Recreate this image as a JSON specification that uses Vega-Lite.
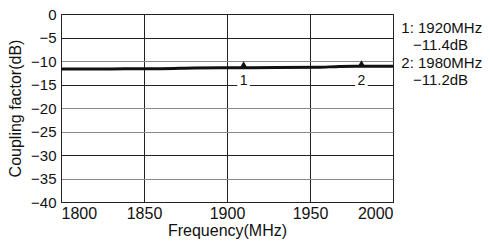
{
  "$schema": "https://vega.github.io/schema/vega-lite/v6.json",
  "width": 332,
  "height": 188,
  "autosize": "none",
  "padding": {"left": 61, "top": 14, "right": 97, "bottom": 46},
  "background": "white",
  "config": {
    "view": {"stroke": "#222", "strokeWidth": 1},
    "font": "Liberation Sans",
    "text": {"font": "Liberation Sans", "color": "#111"}
  },
  "datasets": {
    "curve": [
      {"f": 1800, "db": -11.7},
      {"f": 1830, "db": -11.68},
      {"f": 1860, "db": -11.65},
      {"f": 1880, "db": -11.5},
      {"f": 1900, "db": -11.42},
      {"f": 1930, "db": -11.4},
      {"f": 1955, "db": -11.35},
      {"f": 1968, "db": -11.15},
      {"f": 1985, "db": -11.12},
      {"f": 2000, "db": -11.1}
    ],
    "markers": [
      {"f": 1910, "db": -11.4, "id": "1"},
      {"f": 1981, "db": -11.15, "id": "2"}
    ],
    "notes": [
      {"f": 2005, "db": -3, "label": "1: 1920MHz"},
      {"f": 2012, "db": -6.6, "label": "−11.4dB"},
      {"f": 2005, "db": -10.4, "label": "2: 1980MHz"},
      {"f": 2012, "db": -14, "label": "−11.2dB"}
    ]
  },
  "encoding": {
    "x": {
      "field": "f",
      "type": "quantitative",
      "scale": {"domain": [1800, 2000], "nice": false, "zero": false},
      "axis": {
        "title": "Frequency(MHz)",
        "values": [1800, 1850, 1900, 1950, 2000],
        "format": "d",
        "grid": true,
        "gridColor": "#222",
        "gridOpacity": 1,
        "gridWidth": 1,
        "ticks": false,
        "tickSize": 0,
        "domainColor": "#222",
        "labelFontSize": 16,
        "labelColor": "#111",
        "labelPadding": 3,
        "labelFont": "Liberation Sans",
        "titleFont": "Liberation Sans",
        "titleFontSize": 16,
        "titleFontWeight": "normal",
        "titleColor": "#111",
        "titleY": 20,
        "titleBaseline": "top"
      }
    },
    "y": {
      "field": "db",
      "type": "quantitative",
      "scale": {"domain": [-40, 0], "nice": false, "zero": false},
      "axis": {
        "title": "Coupling factor(dB)",
        "values": [-40, -35, -30, -25, -20, -15, -10, -5, 0],
        "grid": true,
        "gridColor": {
          "condition": {"test": "datum.value == -10 || datum.value == -20 || datum.value == -25 || datum.value == -35", "value": "#8a8a8a"},
          "value": "#222"
        },
        "gridOpacity": 1,
        "gridWidth": 1,
        "ticks": false,
        "tickSize": 0,
        "domainColor": "#222",
        "labelFontSize": 15,
        "labelColor": "#111",
        "labelPadding": 5,
        "labelFont": "Liberation Sans",
        "titleFont": "Liberation Sans",
        "titleFontSize": 16,
        "titleFontWeight": "normal",
        "titleColor": "#111",
        "titleX": -38,
        "titleY": 94,
        "titleBaseline": "bottom",
        "titleAngle": -90,
        "titleAlign": "center"
      }
    }
  },
  "layer": [
    {
      "data": {"name": "curve"},
      "mark": {"type": "line", "color": "#111", "strokeWidth": 3, "interpolate": "monotone"}
    },
    {
      "data": {"name": "markers"},
      "mark": {"type": "point", "shape": "triangle-up", "filled": true, "color": "#111", "size": 55, "opacity": 1, "yOffset": -3}
    },
    {
      "data": {"name": "markers"},
      "mark": {"type": "point", "shape": "square", "filled": true, "color": "white", "size": 160, "opacity": 1, "yOffset": -2},
      "encoding": {"y": {"datum": -15, "type": "quantitative"}}
    },
    {
      "data": {"name": "markers"},
      "mark": {"type": "text", "fontSize": 14, "baseline": "alphabetic", "align": "center", "dy": 0},
      "encoding": {"y": {"datum": -15, "type": "quantitative"}, "text": {"field": "id"}}
    },
    {
      "data": {"name": "notes"},
      "mark": {"type": "text", "fontSize": 15, "align": "left", "baseline": "middle", "clip": false},
      "encoding": {"text": {"field": "label"}}
    }
  ]
}
